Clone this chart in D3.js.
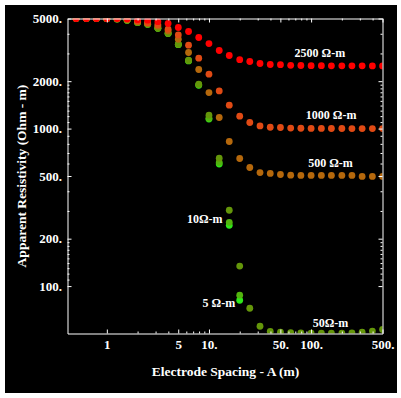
<!DOCTYPE html>
<html>
<head>
  <meta charset="utf-8" />
  <script src="https://d3js.org/d3.v7.min.js"></script>
  <style>
    body { margin: 0; background: #fff; }
    .axis text { fill: #fff; font-family: "Liberation Serif", "Times New Roman", serif; font-weight: bold; font-size: 13px; }
    .axis line, .axis path { stroke: #fff; }
    .title { fill: #fff; font-family: "Liberation Serif", "Times New Roman", serif; font-weight: bold; font-size: 13.5px; }
    .note { fill: #fff; font-family: "Liberation Serif", "Times New Roman", serif; font-weight: bold; font-size: 12px; }
  </style>
</head>
<body>
  <div id="chart"></div>

  <script>
    const width = 401, height = 398;
    const plotLeft = 67.5, plotRight = 382.5, plotTop = 18.5, plotBottom = 333.5;

    // electrode spacing A (m)
    const spacing = [0.5, 0.63, 0.79, 1, 1.26, 1.58, 2, 2.51, 3.16, 3.98, 5.01, 6.31, 7.94, 10, 12.6,
      15.8, 20, 25.1, 31.6, 39.8, 50.1, 63.1, 79.4, 100, 126, 158, 200, 251, 316, 398, 501];

    // apparent resistivity (Ohm-m), one array per lower layer
    const rho2500 = [5000, 5000, 5000, 4998, 4992, 4985, 4913, 4877, 4771, 4648, 4384, 4135, 3786, 3468, 3131,
      2911, 2738, 2667, 2590, 2552, 2546, 2520, 2515, 2510, 2508, 2505, 2504, 2503, 2502, 2501, 2500];
    const rho1000 = [5000, 4999, 4997, 4992, 4980, 4949, 4806, 4689, 4566, 4277, 3933, 3384, 2798, 2214, 1734,
      1408, 1199, 1093, 1040, 1020, 1016, 1008, 1005, 1003, 1002, 1001, 1001, 1000, 1000, 1000, 1000];
    const rho500 = [5000, 4999, 4996, 4990, 4975, 4920, 4771, 4669, 4468, 4170, 3693, 3041, 2372, 1694, 1176,
      828, 646, 566, 526, 519, 511, 506, 504, 504, 504, 504, 504, 504, 497, 497, 497];
    const rho50 = [5000, 4999, 4995, 4988, 4968, 4877, 4716, 4600, 4340, 4031, 3433, 2718, 1913, 1216, 649,
      303, 134, 72.3, 55.6, 51.5, 51, 50.6, 50.4, 50.3, 50.3, 50.2, 50.2, 50.5, 51, 51.8, 53];
    const rho10 = [5000, 4999, 4995, 4987, 4966, 4874, 4712, 4594, 4332, 4020, 3420, 2700, 1895, 1164, 610,
      254, 87.5];
    const rho5 = [5000, 4999, 4995, 4987, 4965, 4872, 4710, 4591, 4328, 4015, 3412, 2690, 1885, 1150, 595,
      243, 81.3];

    const seriesNames = ["5", "10", "50", "500", "1000", "2500"];
    const seriesValues = [rho5, rho10, rho50, rho500, rho1000, rho2500];
    const seriesColors = ["#2ee81a", "#52b40e", "#64960a", "#b5680c", "#e04a14", "#ff0000"];

    const xMajor = [1, 5, 10, 50, 100, 500];
    const xLabels = ["1", "5", "10.", "50.", "100.", "500."];
    const xMinor = [2, 3, 4, 6, 7, 8, 9, 20, 30, 40, 60, 70, 80, 90, 200, 300, 400];
    const yMajor = [100, 200, 500, 1000, 2000, 5000];
    const yLabels = ["100.", "200.", "500.", "1000.", "2000.", "5000."];
    const yMinor = [110, 120, 130, 140, 150, 160, 170, 180, 190, 300, 400, 600, 700, 800, 900,
      1100, 1200, 1300, 1400, 1500, 1600, 1700, 1800, 1900, 3000, 4000];

    // labels: text, spacing, resistivity at label centre
    const notes = [
      ["2500 Ω-m", 122, 3020], ["1000 Ω-m", 157, 1216], ["500 Ω-m", 155, 606],
      ["10Ω-m", 9.1, 266], ["5 Ω-m", 12.5, 78.2], ["50Ω-m", 155, 58.4]
    ];

    const x = d3.scaleLog().domain([0.412, 500]).range([plotLeft, plotRight]);
    const y = d3.scaleLog().domain([50, 5000]).range([plotBottom, plotTop]);

    const svg = d3.select("#chart").append("svg")
      .attr("width", width)
      .attr("height", height)
      .style("display", "block");

    svg.append("rect").attr("width", width).attr("height", height).attr("fill", "#fff");
    svg.append("rect").attr("x", 5).attr("y", 5).attr("width", 392).attr("height", 388).attr("fill", "#000");

    svg.append("clipPath").attr("id", "plot")
      .append("rect").attr("x", plotLeft).attr("y", plotTop)
      .attr("width", plotRight - plotLeft).attr("height", plotBottom - plotTop);

    const dots = svg.append("g").attr("clip-path", "url(#plot)");
    seriesValues.forEach((vals, s) => {
      dots.selectAll(null)
        .data(vals)
        .enter().append("circle")
        .attr("cx", (d, i) => x(spacing[i]))
        .attr("cy", d => y(d))
        .attr("r", 3.4)
        .attr("fill", seriesColors[s]);
    });

    function frameAxis(axis, transform, size, values, labels) {
      return svg.append("g").attr("class", "axis").attr("transform", transform)
        .call(axis.tickValues(values)
          .tickFormat((d, i) => labels ? labels[i] : "")
          .tickSizeInner(-size).tickSizeOuter(0));
    }

    frameAxis(d3.axisBottom(x).tickPadding(6), `translate(0,${plotBottom})`, 4, xMajor, xLabels);
    frameAxis(d3.axisTop(x), `translate(0,${plotTop})`, 4, xMajor, null);
    frameAxis(d3.axisLeft(y).tickPadding(5.5), `translate(${plotLeft},0)`, 4, yMajor, yLabels);
    frameAxis(d3.axisRight(y), `translate(${plotRight},0)`, 4, yMajor, null);
    [
      [d3.axisBottom(x), `translate(0,${plotBottom})`, xMinor],
      [d3.axisTop(x), `translate(0,${plotTop})`, xMinor],
      [d3.axisLeft(y), `translate(${plotLeft},0)`, yMinor],
      [d3.axisRight(y), `translate(${plotRight},0)`, yMinor]
    ].forEach(([a, t, v]) => frameAxis(a, t, 2, v, null).select(".domain").remove());

    svg.append("text").attr("class", "title")
      .attr("x", (plotLeft + plotRight) / 2 + 0.5).attr("y", 376)
      .attr("text-anchor", "middle")
      .text("Electrode Spacing - A (m)");

    svg.append("text").attr("class", "title")
      .attr("transform", "translate(25.5,176) rotate(-90)")
      .attr("text-anchor", "middle")
      .text("Apparent Resistivity (Ohm - m)");

    svg.selectAll(".note")
      .data(notes)
      .enter().append("text")
      .attr("class", "note")
      .attr("x", d => x(d[1]))
      .attr("y", d => y(d[2]))
      .attr("dy", "0.35em")
      .attr("text-anchor", "middle")
      .text(d => d[0]);
  </script>
</body>
</html>
